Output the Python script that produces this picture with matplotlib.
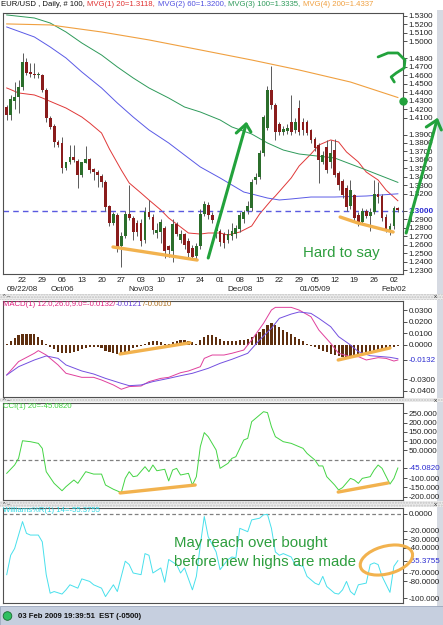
import numpy as np
import pandas as pd
import matplotlib
matplotlib.use('Agg')
import matplotlib.pyplot as plt
from matplotlib.patches import Rectangle, Ellipse, Circle

plt.rcParams['font.family'] = ['Liberation Sans', 'DejaVu Sans']

W, H = 443, 625

# bar dates (daily EUR/USD, Jan 1 holiday skipped)
dates = pd.bdate_range('2008-09-16', '2009-02-03')
dates = dates[dates != pd.Timestamp('2009-01-01')]

opens = [1.4225, 1.4130, 1.4300, 1.4340, 1.4460, 1.4760, 1.4640, 1.4610, 1.4600, 1.4600,
         1.4430, 1.4100, 1.4000, 1.3810, 1.3800, 1.3510, 1.3570, 1.3640, 1.3590, 1.3420,
         1.3560, 1.3610, 1.3490, 1.3460, 1.3410, 1.3340, 1.3060, 1.2850, 1.2950, 1.2580,
         1.2700, 1.2960, 1.2920, 1.2850, 1.2850, 1.2650, 1.2980, 1.2930, 1.2740, 1.2750,
         1.2800, 1.2580, 1.2520, 1.2840, 1.2660, 1.2720, 1.2640, 1.2560, 1.2460, 1.2580,
         1.2960, 1.3070, 1.2950, 1.2760, 1.2760, 1.2720, 1.2660, 1.2700, 1.2720, 1.2790,
         1.2900, 1.3000, 1.3030, 1.3360, 1.3400, 1.3680, 1.3980, 1.4430, 1.4250, 1.4030,
         1.3930, 1.3940, 1.4050, 1.3950, 1.4210, 1.4050, 1.4050, 1.3950, 1.3850, 1.3780,
         1.3580, 1.3750, 1.3570, 1.3720, 1.3450, 1.3350, 1.3270, 1.3060, 1.3180, 1.2950,
         1.2870, 1.3000, 1.2940, 1.2980, 1.3200, 1.3170, 1.2930, 1.2760, 1.2820, 1.3030]
highs = [1.4250, 1.4370, 1.4520, 1.4540, 1.4860, 1.4800, 1.4740, 1.4740, 1.4640, 1.4610,
         1.4450, 1.4120, 1.4020, 1.3830, 1.3870, 1.3580, 1.3780, 1.3780, 1.3610, 1.3580,
         1.3760, 1.3620, 1.3500, 1.3480, 1.3430, 1.3360, 1.3070, 1.2980, 1.2970, 1.2750,
         1.3000, 1.3300, 1.2940, 1.2890, 1.2900, 1.3050, 1.3130, 1.2960, 1.2850, 1.2900,
         1.2820, 1.2600, 1.2900, 1.2870, 1.2770, 1.2740, 1.2680, 1.2600, 1.2620, 1.3020,
         1.3110, 1.3100, 1.2980, 1.2820, 1.2790, 1.2750, 1.2780, 1.2850, 1.2830, 1.2990,
         1.3010, 1.3120, 1.3380, 1.3450, 1.3720, 1.4130, 1.4470, 1.4710, 1.4270, 1.4050,
         1.4000, 1.4030, 1.4370, 1.4100, 1.4310, 1.4100, 1.4070, 1.3970, 1.3870, 1.3800,
         1.3700, 1.3840, 1.3840, 1.3850, 1.3470, 1.3370, 1.3300, 1.3360, 1.3200, 1.2980,
         1.3030, 1.3020, 1.3030, 1.3360, 1.3340, 1.3200, 1.2960, 1.2850, 1.3060, 1.3050]
lows = [1.4070, 1.4070, 1.4200, 1.4150, 1.4430, 1.4600, 1.4580, 1.4570, 1.4570, 1.4400,
        1.4050, 1.3970, 1.3750, 1.3750, 1.3450, 1.3480, 1.3550, 1.3570, 1.3270, 1.3400,
        1.3560, 1.3450, 1.3360, 1.3280, 1.3280, 1.3000, 1.2820, 1.2830, 1.2510, 1.2340,
        1.2680, 1.2890, 1.2650, 1.2700, 1.2580, 1.2620, 1.2900, 1.2720, 1.2680, 1.2620,
        1.2440, 1.2450, 1.2400, 1.2700, 1.2620, 1.2550, 1.2450, 1.2440, 1.2430, 1.2550,
        1.2940, 1.2900, 1.2850, 1.2680, 1.2580, 1.2560, 1.2620, 1.2660, 1.2680, 1.2750,
        1.2860, 1.2960, 1.3000, 1.3320, 1.3380, 1.3650, 1.3950, 1.4200, 1.3840, 1.3900,
        1.3900, 1.3910, 1.3900, 1.3920, 1.3900, 1.3900, 1.3900, 1.3800, 1.3700, 1.3330,
        1.3550, 1.3450, 1.3500, 1.3400, 1.3250, 1.3150, 1.3000, 1.3020, 1.2870, 1.2820,
        1.2840, 1.2910, 1.2760, 1.2960, 1.3090, 1.2880, 1.2750, 1.2710, 1.2790, 1.2980]
closes = [1.4130, 1.4320, 1.4340, 1.4460, 1.4760, 1.4630, 1.4610, 1.4600, 1.4610, 1.4430,
          1.4100, 1.3990, 1.3810, 1.3780, 1.3500, 1.3570, 1.3640, 1.3600, 1.3420, 1.3570,
          1.3610, 1.3480, 1.3460, 1.3420, 1.3340, 1.3040, 1.2860, 1.2960, 1.2570, 1.2700,
          1.2960, 1.2920, 1.2750, 1.2750, 1.2640, 1.2980, 1.2930, 1.2770, 1.2770, 1.2870,
          1.2520, 1.2540, 1.2840, 1.2730, 1.2730, 1.2600, 1.2500, 1.2450, 1.2580, 1.2960,
          1.3080, 1.2950, 1.2890, 1.2790, 1.2630, 1.2620, 1.2730, 1.2760, 1.2800, 1.2950,
          1.2980, 1.3060, 1.3340, 1.3400, 1.3680, 1.4110, 1.4430, 1.4250, 1.3930, 1.3930,
          1.3970, 1.3980, 1.3930, 1.4050, 1.3930, 1.3950, 1.3920, 1.3830, 1.3740, 1.3600,
          1.3660, 1.3480, 1.3680, 1.3420, 1.3300, 1.3180, 1.3050, 1.3240, 1.2910, 1.2860,
          1.3000, 1.2940, 1.2990, 1.3200, 1.3160, 1.2920, 1.2780, 1.2820, 1.3030, 1.3010]

# moving averages (bar index, value)
ma20_k = [0, 3, 7, 9, 12, 15, 19, 21, 24, 26, 29, 31, 34, 36, 39, 41, 44, 46, 49, 51,
          54, 56, 59, 62, 64, 67, 68, 72, 74, 77, 79, 82, 84, 86, 89, 91, 94, 96, 99]
ma20_v = [1.4450, 1.4391, 1.4367, 1.4332, 1.4272, 1.4213, 1.4107, 1.4036, 1.3918, 1.3729,
          1.3481, 1.3328, 1.3209, 1.3127, 1.3009, 1.2914, 1.2808, 1.2737, 1.2725, 1.2737,
          1.2737, 1.2713, 1.2749, 1.2820, 1.2961, 1.3127, 1.3174, 1.3387, 1.3528, 1.3670,
          1.3776, 1.3836, 1.3812, 1.3694, 1.3576, 1.3457, 1.3363, 1.3245, 1.3118]
ma60_k = [0, 7, 11, 15, 19, 24, 28, 32, 36, 41, 45, 49, 54, 57, 60, 62, 66, 69, 72, 77, 83, 91, 99]
ma60_v = [1.5170, 1.5052, 1.4934, 1.4804, 1.4639, 1.4450, 1.4272, 1.4107, 1.3954, 1.3800,
          1.3658, 1.3517, 1.3387, 1.3304, 1.3221, 1.3198, 1.3150, 1.3127, 1.3139, 1.3162,
          1.3162, 1.3174, 1.3200]
ma100_k = [0, 7, 11, 15, 19, 24, 28, 32, 36, 41, 45, 49, 54, 57, 62, 66, 70, 74, 83, 91, 99]
ma100_v = [1.5312, 1.5276, 1.5217, 1.5111, 1.4981, 1.4839, 1.4698, 1.4568, 1.4450, 1.4331,
           1.4225, 1.4166, 1.4072, 1.3989, 1.3906, 1.3800, 1.3717, 1.3670, 1.3623, 1.3481, 1.3335]
ma200_k = [0, 11, 24, 36, 49, 62, 74, 87, 99]
ma200_v = [1.5206, 1.5194, 1.5111, 1.5017, 1.4899, 1.4780, 1.4662, 1.4520, 1.4337]

macd_hist = [0.001, 0.003, 0.006, 0.008, 0.009, 0.0095, 0.0095, 0.009, 0.007, 0.004, 0.001,
             -0.002, -0.004, -0.006, -0.007, -0.0075, -0.007, -0.006, -0.005, -0.004,
             -0.003, -0.002, -0.002, -0.002, -0.003, -0.005, -0.006, -0.007, -0.008, -0.0085,
             -0.007, -0.005, -0.003, -0.002, -0.001, 0.001, 0.002, 0.003, 0.003, 0.002,
             0.001, 0.001, 0.002, 0.003, 0.004, 0.004, 0.003, 0.002, 0.001, 0.004,
             0.007, 0.008, 0.008, 0.007, 0.005, 0.003, 0.003, 0.003, 0.003, 0.004,
             0.004, 0.005, 0.007, 0.009, 0.011, 0.014, 0.017, 0.019, 0.017, 0.015,
             0.013, 0.011, 0.009, 0.007, 0.005, 0.003, 0.001, -0.001, -0.002, -0.004,
             -0.005, -0.006, -0.008, -0.009, -0.010, -0.011, -0.011, -0.0105, -0.010, -0.010,
             -0.009, -0.009, -0.008, -0.007, -0.006, -0.005, -0.004, -0.003, -0.002, -0.001]
macd_k = [0, 3, 7, 8, 10, 13, 15, 19, 22, 24, 27, 29, 31, 34, 36, 39, 41, 44, 46, 49, 50,
          52, 55, 57, 60, 62, 65, 67, 68, 72, 74, 77, 79, 82, 84, 87, 89, 91, 94, 96, 98, 99]
macd_v = [-0.0262, -0.0146, -0.0074, -0.0051, -0.0089, -0.0175, -0.0247, -0.0282, -0.0282,
          -0.0305, -0.0348, -0.0385, -0.0362, -0.0357, -0.0319, -0.0291, -0.0282, -0.0242,
          -0.0227, -0.0190, -0.0118, -0.0089, -0.0089, -0.0074, -0.0046, 0.0041, 0.0185,
          0.0300, 0.0323, 0.0323, 0.0300, 0.0242, 0.0127, 0.0012, -0.0074, -0.0103, -0.0103,
          -0.0132, -0.0112, -0.0118, -0.0141, -0.0132]
signal_k = [0, 3, 7, 10, 13, 15, 19, 22, 25, 29, 31, 34, 37, 41, 44, 47, 51, 54, 57, 61,
            64, 67, 69, 72, 74, 77, 79, 82, 84, 87, 89, 92, 95, 97, 99]
signal_v = [-0.0262, -0.0190, -0.0132, -0.0097, -0.0118, -0.0175, -0.0227, -0.0253, -0.0291,
            -0.0334, -0.0354, -0.0348, -0.0319, -0.0291, -0.0268, -0.0247, -0.0204, -0.0161,
            -0.0126, -0.0074, 0.0041, 0.0142, 0.0228, 0.0265, 0.0283, 0.0271, 0.0228, 0.0156,
            0.0070, -0.0002, -0.0060, -0.0095, -0.0103, -0.0109, -0.0121]

cci_k = [0, 2, 3, 4, 6, 8, 9, 10, 12, 14, 15, 17, 18, 20, 22, 24, 25, 27, 29, 30, 31, 32, 33,
         35, 36, 37, 38, 40, 41, 42, 43, 44, 46, 47, 48, 49, 50, 51, 53, 54, 56, 57, 58, 60,
         61, 62, 63, 65, 66, 67, 68, 70, 72, 73, 75, 76, 78, 79, 80, 81, 83, 84, 85, 87, 88,
         89, 90, 92, 93, 94, 95, 97, 98, 99]
cci_v = [-74, -29, 7, 102, 97, 88, 61, -65, -128, -168, -146, -110, -128, -65, -78, -78, -137,
         -160, -178, -101, -65, -92, -88, -38, -65, -29, -60, -52, -115, -56, -47, -83, -74,
         -137, -92, 70, 146, 124, 52, -47, -20, 7, 16, 106, 115, 205, 223, 259, 254, 178, 124,
         97, 88, 79, 61, 34, -2, -34, -34, -92, -137, -164, -151, -101, -110, -128, -101, -92,
         -56, -29, -47, -132, -101, -45.082]

wr_k = [0, 1, 2, 4, 5, 6, 8, 9, 10, 11, 12, 14, 15, 16, 18, 19, 21, 22, 24, 25, 27, 28, 30,
        31, 32, 34, 35, 36, 37, 39, 40, 41, 43, 44, 45, 47, 48, 49, 50, 51, 53, 54, 56, 57,
        58, 59, 61, 62, 64, 65, 66, 67, 68, 69, 70, 72, 73, 75, 76, 78, 79, 80, 81, 83, 84,
        85, 86, 87, 88, 89, 91, 92, 93, 94, 95, 97, 98, 99]
wr_v = [-72, -49, -41, -9, -23, -25, -25, -33, -72, -94, -92, -95, -90, -84, -88, -77, -80,
        -84, -88, -98, -84, -92, -56, -60, -70, -72, -47, -49, -70, -64, -81, -54, -60, -70,
        -64, -90, -74, -37, -3, -27, -45, -66, -54, -51, -52, -17, -21, -7, -5, -1, -0.5,
        -17, -45, -49, -47, -51, -60, -62, -74, -82, -84, -74, -86, -94, -95, -90, -80, -92,
        -96, -84, -82, -60, -58, -60, -74, -93, -62, -55.3755]

price_ticks = [1.53, 1.52, 1.51, 1.50, 1.48, 1.47, 1.46, 1.45, 1.44, 1.43, 1.42, 1.41,
               1.39, 1.38, 1.37, 1.36, 1.35, 1.34, 1.33, 1.32, 1.30, 1.29, 1.28, 1.27,
               1.26, 1.25, 1.24, 1.23]
macd_ticks = [0.03, 0.02, 0.01, 0.0, -0.0132, -0.03, -0.04]
macd_labels = ['0.0300', '0.0200', '0.0100', '0.0000', '-0.0132', '-0.0300', '-0.0400']
cci_ticks = [250, 200, 150, 100, 50, -45.082, -100, -150, -200]
cci_labels = ['250.000', '200.000', '150.000', '100.000', '50.0000', '-45.0820',
              '-100.000', '-150.000', '-200.000']
wr_ticks = [0, -20, -30, -40, -55.3755, -70, -80, -100]
wr_labels = ['0.0000', '-20.0000', '-30.0000', '-40.0000', '-55.3755', '-70.0000',
             '-80.0000', '-100.000']
month_labels = {'2008-09-22': '09/22/08', '2008-10-06': 'Oct/06', '2008-11-03': 'Nov/03',
                '2008-12-08': 'Dec/08', '2009-01-05': '01/05/09', '2009-02-02': 'Feb/02'}

BLUE = '#2a2ad0'
GREEN_INK = '#22a23c'
ORANGE_INK = '#f2b24e'


def rect(top, bottom, left=3, right=403):
    return [left / W, 1 - bottom / H, (right - left) / W, (bottom - top) / H]


def style_axis(ax, ticks, labels, ylim, hl=None):
    ax.set_xlim(-0.94, 100.3)
    ax.set_ylim(*ylim)
    ax.set_xticks([])
    ax.yaxis.tick_right()
    ax.set_yticks(ticks)
    ax.set_yticklabels(labels)
    ax.tick_params(axis='y', length=3, width=0.6, labelsize=5.8, pad=1, color='#333333',
                   labelcolor='#222222')
    for s in ax.spines.values():
        s.set_color('#505050')
        s.set_linewidth(0.8)
    if hl is not None:
        lab = ax.get_yticklabels()[hl]
        lab.set_color(BLUE)


fig = plt.figure(figsize=(W / 100, H / 100), dpi=100)
fig.patch.set_facecolor('white')

# background decorations in pixel space
bg = fig.add_axes([0, 0, 1, 1], zorder=-5)
bg.set_xlim(0, W)
bg.set_ylim(H, 0)
bg.axis('off')
bg.add_patch(Rectangle((437, 10), 6, 597, facecolor='#d6dae2', lw=0))
for y0, y1 in [(294, 300), (398, 402), (501, 507)]:
    bg.add_patch(Rectangle((0, y0), W, y1 - y0, facecolor='#ececec', edgecolor='#c4c4c4',
                           hatch='......', lw=0))
    bg.text(3, (y0 + y1) / 2, '^ \u2013', fontsize=4, va='center', color='#333333')
    bg.text(434, (y0 + y1) / 2, 'x', fontsize=4.5, va='center', color='#333333')
bg.add_patch(Rectangle((0, 606), W, 19, facecolor='#c6cfdf', edgecolor='#9aa6bc', lw=0.6))
bg.add_patch(Circle((7.5, 616), 4.3, facecolor='#2fc060', edgecolor='#1a6a30', lw=0.6))
bg.text(18, 616, '03 Feb 2009 19:39:51  EST (-0500)', fontsize=5.6, fontweight='bold',
        va='center', color='#111111')

# ---- price panel ----
ax = fig.add_axes(rect(13, 274))
x = np.arange(len(closes))
o = np.array(opens)
c = np.array(closes)
up = c >= o
ax.vlines(x, lows, highs, color='#5a5a5a', lw=0.7, zorder=2)
body = np.maximum(np.abs(c - o), 0.0008)
ax.bar(x, body, bottom=np.minimum(o, c), width=0.7,
       color=np.where(up, '#2b6e2b', '#8a1c1c'), edgecolor='none', zorder=3)
ax.plot(ma20_k, ma20_v, color='#e03838', lw=0.7, zorder=1)
ax.plot(ma60_k, ma60_v, color='#5a5ae6', lw=0.7, zorder=1)
ax.plot(ma100_k, ma100_v, color='#2e9a5a', lw=0.7, zorder=1)
ax.plot(ma200_k, ma200_v, color='#f0a040', lw=0.8, zorder=1)
ax.axhline(1.30, color='#5a5ae0', ls=(0, (4, 3)), lw=1.0, zorder=1)
style_axis(ax, price_ticks, ['%.4f' % t for t in price_ticks], (1.2253, 1.5335),
           hl=price_ticks.index(1.30))
ax.get_yticklabels()[price_ticks.index(1.30)].set_fontweight('bold')

xt = ax.get_xaxis_transform()
for i, d in enumerate(dates):
    if d.weekday() == 0:
        ax.text(i, -0.023, d.strftime('%d'), transform=xt, fontsize=5.8, ha='center',
                va='center', color='#222222')
        key = d.strftime('%Y-%m-%d')
        if key in month_labels:
            ax.text(i, -0.058, month_labels[key], transform=xt, fontsize=5.8, ha='center',
                    va='center', color='#222222')

# hand-drawn notes on price panel
ax.plot([26.9, 48.2], [1.2572, 1.2418], color=ORANGE_INK, lw=2.4, solid_capstyle='round', zorder=4)
ax.plot([84.4, 88.9, 97.8], [1.2926, 1.2855, 1.2749], color=ORANGE_INK, lw=2.4,
        solid_capstyle='round', zorder=4)
ax.plot([51.0, 60.6], [1.2442, 1.4024], color=GREEN_INK, lw=2.2, solid_capstyle='round', zorder=5)
ax.plot([58.1, 60.6, 61.8], [1.3918, 1.4024, 1.3930], color=GREEN_INK, lw=2.2,
        solid_capstyle='round', zorder=5)
ax.plot([101.1, 108.9], [1.2737, 1.4072], color=GREEN_INK, lw=2.2, solid_capstyle='round',
        zorder=5, clip_on=False)
ax.plot([106.2, 108.9, 110.0], [1.3989, 1.4072, 1.3954], color=GREEN_INK, lw=2.2,
        solid_capstyle='round', zorder=5, clip_on=False)
ax.plot([94.0, 96.5, 99.0, 100.8, 100.6, 98.6, 97.3, 98.1],
        [1.4816, 1.4863, 1.4863, 1.4780, 1.4686, 1.4627, 1.4580, 1.4520],
        color=GREEN_INK, lw=2.0, solid_capstyle='round', zorder=5, clip_on=False)
ax.plot([100.4], [1.4296], 'o', color=GREEN_INK, ms=5, zorder=5, clip_on=False)
ax.text(75.0, 1.2501, 'Hard to say', fontsize=10.8, color='#2e9e3e', va='center', ha='left',
        zorder=6)

# ---- MACD panel ----
ax2 = fig.add_axes(rect(301, 397))
ax2.bar(x, macd_hist, width=0.55, color='#5e2f0f', edgecolor='none', zorder=2)
ax2.plot(macd_k, macd_v, color='#e0409c', lw=0.7, zorder=3)
ax2.plot(signal_k, signal_v, color='#7450e0', lw=0.7, zorder=3)
style_axis(ax2, macd_ticks, macd_labels, (-0.0452, 0.0378), hl=4)
ax2.plot([28.7, 46.4], [-0.0080, 0.0017], color=ORANGE_INK, lw=2.4, solid_capstyle='round', zorder=4)
ax2.plot([83.9, 97.0], [-0.0132, -0.0028], color=ORANGE_INK, lw=2.4, solid_capstyle='round', zorder=4)

# ---- CCI panel ----
ax3 = fig.add_axes(rect(403, 500))
ax3.axhline(0, color='#808080', ls=(0, (3, 2)), lw=0.9)
ax3.plot(cci_k, cci_v, color='#44d444', lw=0.7, zorder=3)
style_axis(ax3, cci_ticks, cci_labels, (-218, 306), hl=5)
ax3.plot([28.7, 47.7], [-180, -137], color=ORANGE_INK, lw=2.4, solid_capstyle='round', zorder=4)
ax3.plot([83.9, 96.5], [-175, -126], color=ORANGE_INK, lw=2.4, solid_capstyle='round', zorder=4)

# ---- Williams %R panel ----
ax4 = fig.add_axes(rect(508, 603))
ax4.axhline(0, color='#808080', ls=(0, (3, 2)), lw=0.9)
ax4.plot(wr_k, wr_v, color='#48e0ec', lw=0.7, zorder=3)
style_axis(ax4, wr_ticks, wr_labels, (-105.6, 7.1), hl=4)
ax4.text(42.4, -34.4, 'May reach over bought', fontsize=10.8, color='#2e9e3e', va='center',
         ha='left', zorder=6)
ax4.text(42.4, -56.9, 'before new highs are made', fontsize=10.8, color='#2e9e3e',
         va='center', ha='left', zorder=6)
ax4.add_patch(Ellipse((96.1, -54.6), 12.4, 36, angle=-8, fill=False, edgecolor=ORANGE_INK,
                      lw=2.2, zorder=6, clip_on=False))

# ---- header and panel titles (coloured pieces) ----
fig.canvas.draw()
rend = fig.canvas.get_renderer()


def segments(x_px, y_px, parts, size=5.6):
    for s, col in parts:
        t = fig.text(x_px / W, 1 - y_px / H, s, color=col, fontsize=size, va='center', ha='left')
        x_px = t.get_window_extent(rend).x1 + 0.5


segments(1, 5, [('EUR/USD , Daily, # 100, ', '#111111'), ('MVG(1) 20=1.3118, ', '#e03030'),
                ('MVG(2) 60=1.3200, ', '#5050e0'), ('MVG(3) 100=1.3335, ', '#2e9a5a'),
                ('MVG(4) 200=1.4337', '#f0a040')])
segments(3, 304.5, [('MACD(1) 12.0,26.0,9.0=-0.0132/', '#e0207f'), ('-0.0121', '#6a40d8'),
                    ('/-0.0010', '#b07020')])
segments(3, 407, [('CCI(1) 20=-45.0820', '#3ed43e')])
segments(3, 511, [('Williams%R(1) 14=-55.3755', '#30d8e4')])

fig.savefig('out.png', dpi=100, facecolor='white')
